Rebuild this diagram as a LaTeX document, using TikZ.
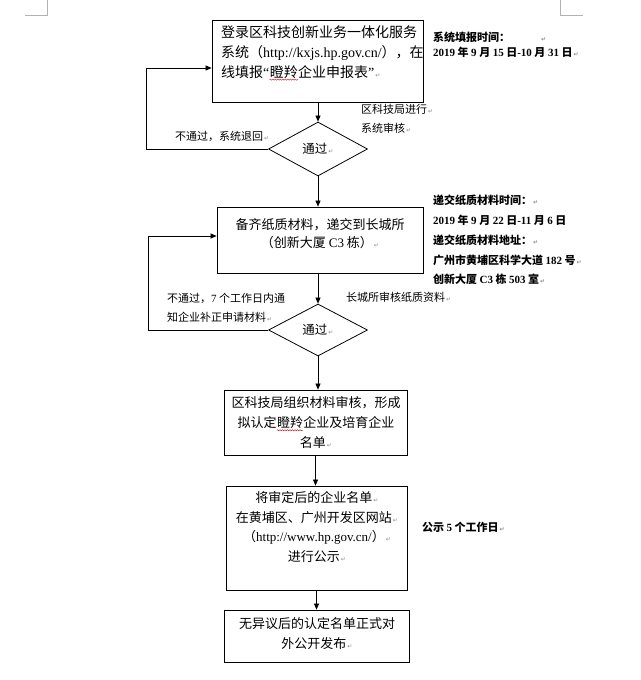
\documentclass[tikz,border=0pt]{standalone}
\usepackage{fontspec}
\setmainfont{Liberation Serif}
\newfontfamily\cjkf{Noto Sans CJK SC}
\newfontfamily\djvf{DejaVu Sans}
\usetikzlibrary{shapes.geometric,arrows.meta,decorations.pathmorphing}
\newcommand\pmk{{\color{black!45}\djvf\fontsize{6}{6}\selectfont\,↵}}
\newcommand\la[1]{{\rmfamily #1}}
\newcommand\wv[1]{\tikz[baseline=(w.base),x=1pt,y=1pt]{\node[inner sep=0pt] (w) {#1};\draw[red!80!black,line width=0.4pt,decorate,decoration={snake,amplitude=0.6pt,segment length=2.5pt}] ([yshift=-1pt]w.south west) -- ([yshift=-1pt]w.south east);}}
\begin{document}
\begin{tikzpicture}[x=1pt,y=-1pt,
  box/.style={draw=black, line width=0.8pt, inner sep=0pt},
  dia/.style={diamond, draw=black, line width=0.8pt, inner sep=0pt, minimum width=99pt, minimum height=54pt, font=\cjkf\fontsize{12.5}{14}\selectfont},
  txt/.style={inner sep=0pt, align=center, font=\cjkf\fontsize{13}{20}\selectfont},
  lbl/.style={inner sep=0pt, align=left, anchor=west, font=\cjkf\fontsize{11}{19}\selectfont},
  blbl/.style={inner sep=0pt, align=left, anchor=west, font=\cjkf\bfseries\fontsize{11}{19.8}\selectfont},
  arr/.style={line width=0.7pt, -{Triangle[length=6pt,width=5pt]}},
  ln/.style={line width=0.7pt},
  crop/.style={draw=black!30, line width=0.8pt}]
\useasboundingbox (0,0) rectangle (640,680);
\fill[white] (0,0) rectangle (640,680);
% page corner marks
\draw[crop] (47,0) -- (47,15) -- (25,15);
\draw[crop] (560,0) -- (560,15) -- (583,15);
% boxes
\node[box, minimum width=211pt, minimum height=82pt] (box1) at (317.5,61) {};
\node[box, minimum width=206pt, minimum height=66pt] (box2) at (320,240) {};
\node[box, minimum width=183pt, minimum height=65pt] (box3) at (315.5,422.5) {};
\node[box, minimum width=181pt, minimum height=104pt] (box4) at (316.5,538) {};
\node[box, minimum width=185pt, minimum height=52pt] (box5) at (316.5,636) {};
\node[dia] (dia1) at (318,149) {通过\pmk};
\node[dia, minimum height=52pt] (dia2) at (318,330) {通过\pmk};
% box texts
\node[txt, align=left, anchor=west, font=\cjkf\fontsize{14}{20}\selectfont] (t1) at (221,53)
  {登录区科技创新业务一体化服务\\系统（\la{http://kxjs.hp.gov.cn/}），在\\线填报\la{“}\wv{瞪羚}企业申报表\la{”}\pmk};
\node[txt, font=\cjkf\fontsize{13}{18}\selectfont] (t2) at (320,234)
  {备齐纸质材料，递交到长城所\\（创新大厦 \la{C3} 栋）\pmk};
\node[txt] (t3) at (316,423)
  {区科技局组织材料审核，形成\\拟认定\wv{瞪羚}企业及培育企业\\名单\pmk};
\node[txt, font=\cjkf\fontsize{13}{19.5}\selectfont] (t4) at (317,527)
  {将审定后的企业名单\pmk\\在黄埔区、广州开发区网站\pmk\\（\la{http://www.hp.gov.cn/}）\pmk\\进行公示\pmk};
\node[txt] (t5) at (317,634)
  {无异议后的认定名单正式对\\外公开发布\pmk};
% labels
\node[lbl] (l1) at (361,119) {区科技局进行\pmk\\系统审核\pmk};
\node[lbl] (l2) at (175,136) {不通过，系统退回\pmk};
\node[lbl] (l3) at (167,308) {不通过，\la{7} 个工作日内通\\知企业补正申请材料\pmk};
\node[lbl] (l4) at (346,297) {长城所审核纸质资料\pmk};
\node[blbl, font=\cjkf\bfseries\fontsize{11}{15}\selectfont] (r1) at (433,44.5)
  {系统填报时间：\hspace{30pt}\pmk\\\la{\bfseries 2019} 年 \la{\bfseries 9} 月 \la{\bfseries 15} 日\la{\bfseries -10} 月 \la{\bfseries 31} 日\pmk};
\node[blbl] (r2) at (433,240)
  {递交纸质材料时间：\pmk\\\la{\bfseries 2019} 年 \la{\bfseries 9} 月 \la{\bfseries 22} 日\la{\bfseries -11} 月 \la{\bfseries 6} 日\\递交纸质材料地址：\pmk\\广州市黄埔区科学大道 \la{\bfseries 182} 号\pmk\\创新大厦 \la{\bfseries C3} 栋 \la{\bfseries 503} 室\pmk};
\node[blbl] (r3) at (422,527) {公示 \la{\bfseries 5} 个工作日\pmk};
% connectors
\draw[arr] (dia1.north |- box1.south) -- (dia1.north);
\draw[arr] (dia1.south) -- (dia1.south |- box2.north);
\draw[arr] (dia2.north |- box2.south) -- (dia2.north);
\draw[arr] (dia2.south) -- (dia2.south |- box3.north);
\draw[arr] (box3.south) -- (box3.south |- box4.north);
\draw[arr] (box4.south) -- (box4.south |- box5.north);
\coordinate (c1) at (146,68);
\coordinate (c2) at (148,236);
\draw[ln] (dia1.west) -| (c1);
\draw[arr] (c1) -- (c1 -| box1.west);
\draw[ln] (dia2.west) -| (c2);
\draw[arr] (c2) -- (c2 -| box2.west);
\end{tikzpicture}
\end{document}
